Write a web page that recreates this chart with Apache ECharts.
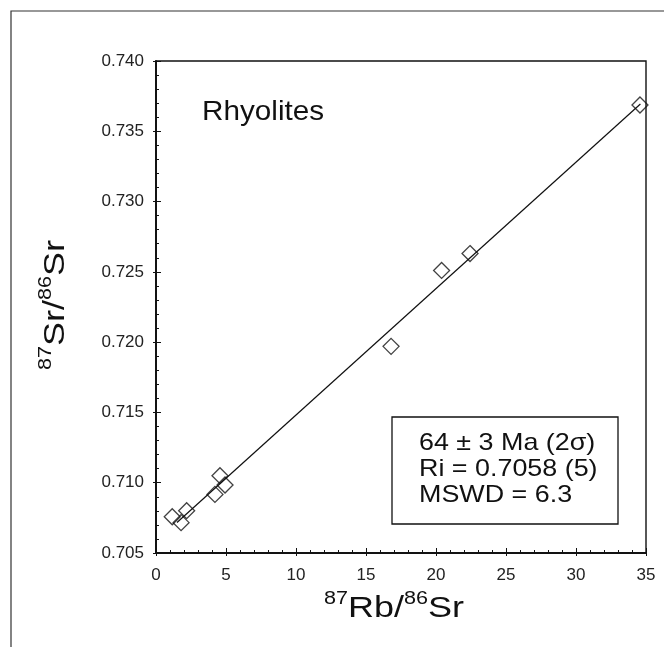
<!DOCTYPE html>
<html><head><meta charset="utf-8">
<script src="https://cdn.jsdelivr.net/npm/echarts@6/dist/echarts.min.js"></script>
<style>html,body{margin:0;padding:0;background:#fff}#c{width:664px;height:647px}</style>
</head><body><div id="c"></div>
<script>
// Data
const rbSr = [1.16, 1.79, 2.19, 4.21, 4.57, 4.93, 16.79, 20.4, 22.43, 34.57];
const srSr = [0.70758, 0.70716, 0.70801, 0.70917, 0.71050, 0.70984, 0.7197, 0.7251, 0.7263, 0.73687];
// Isochron line end points
const lineX = [1.5, 34.6];
const lineY = [0.70717, 0.73694];
const xTicks = [0, 5, 10, 15, 20, 25, 30, 35];
const yTicks = [0.705, 0.710, 0.715, 0.720, 0.725, 0.730, 0.735, 0.740];
const title = 'Rhyolites';
const infoLines = ['64 ± 3 Ma (2σ)', 'Ri = 0.7058 (5)', 'MSWD = 6.3'];
const xTitle = ['87', 'Rb/', '86', 'Sr'];
const yTitle = ['87', 'Sr/', '86', 'Sr'];

const FONT = '"Liberation Sans", Arial, sans-serif';
const chart = echarts.init(document.getElementById('c'));
const pts = rbSr.map((x, i) => [x, srSr[i]]);
const line = lineX.map((x, i) => [x, lineY[i]]);
const xmin = xTicks[0], xmax = xTicks[xTicks.length - 1];
const ymin = yTicks[0], ymax = yTicks[yTicks.length - 1];
const richTitle = p => `{sup|${p[0]}}{big|${p[1]}}{sup|${p[2]}}{big|${p[3]}}`;
const rich = {
  big: {fontFamily: FONT, fontSize: 30, fill: '#111', verticalAlign: 'bottom', lineHeight: 34},
  sup: {fontFamily: FONT, fontSize: 18, fill: '#111', verticalAlign: 'top', lineHeight: 34}
};

const baseAxis = {
  axisLine: {show: true, lineStyle: {color: '#111', width: 1.6}},
  splitLine: {show: false},
};
chart.setOption({
  animation: false,
  grid: {left: 156, top: 61, right: 18, bottom: 94, show: true, borderColor: '#111', borderWidth: 1.4, backgroundColor: 'transparent'},
  xAxis: [
    Object.assign({}, baseAxis, {
      type: 'value', min: xmin, max: xmax, interval: 5, position: 'bottom',
      axisTick: {show: true, inside: true, length: 5, lineStyle: {color: '#111'}},
      minorTick: {show: true, splitNumber: 5, length: 3, lineStyle: {color: '#111'}},
      axisLabel: {fontFamily: FONT, fontSize: 17, color: '#222', margin: 14}
    }),
    Object.assign({}, baseAxis, {
      type: 'value', min: xmin, max: xmax, interval: 5, position: 'bottom',
      axisTick: {show: true, inside: false, length: 3, lineStyle: {color: '#111'}},
      axisLabel: {show: false}
    })
  ],
  yAxis: [
    Object.assign({}, baseAxis, {
      type: 'value', min: ymin, max: ymax, interval: 0.005, position: 'left',
      axisTick: {show: true, inside: true, length: 5, lineStyle: {color: '#111'}},
      minorTick: {show: true, splitNumber: 5, length: 3, lineStyle: {color: '#111'}},
      axisLabel: {fontFamily: FONT, fontSize: 17, color: '#222', margin: 12, formatter: v => v.toFixed(3)}
    }),
    Object.assign({}, baseAxis, {
      type: 'value', min: ymin, max: ymax, interval: 0.005, position: 'left',
      axisTick: {show: true, inside: false, length: 3, lineStyle: {color: '#111'}},
      axisLabel: {show: false}
    })
  ],
  series: [
    {type: 'line', data: line, symbol: 'none', lineStyle: {color: '#111', width: 1.2}, silent: true},
    {type: 'scatter', data: pts, symbol: 'diamond', symbolSize: 16,
     itemStyle: {color: 'rgba(0,0,0,0)', borderColor: '#111', borderWidth: 1.3}}
  ],
  graphic: [
    {type: 'rect', x: 11, y: 11, shape: {width: 700, height: 700}, style: {fill: 'none', stroke: '#333', lineWidth: 1.2}, silent: true},
    {type: 'text', x: 202, y: 112, scaleX: 1.06, style: {text: title, font: '28px ' + FONT, fill: '#111', align: 'left', verticalAlign: 'middle'}},
    {type: 'rect', x: 392, y: 417, shape: {width: 226, height: 107}, style: {fill: '#fff', stroke: '#111', lineWidth: 1.3}},
    {type: 'text', x: 419, y: 443.5, scaleX: 1.12, style: {text: infoLines[0], font: '24px ' + FONT, fill: '#111', align: 'left', verticalAlign: 'middle'}},
    {type: 'text', x: 419, y: 469.5, scaleX: 1.12, style: {text: infoLines[1], font: '24px ' + FONT, fill: '#111', align: 'left', verticalAlign: 'middle'}},
    {type: 'text', x: 419, y: 495, scaleX: 1.12, style: {text: infoLines[2], font: '24px ' + FONT, fill: '#111', align: 'left', verticalAlign: 'middle'}},
    {type: 'text', x: 394, y: 607, scaleX: 1.2, style: {text: richTitle(xTitle), rich: rich, align: 'center', verticalAlign: 'middle'}},
    {type: 'text', x: 54, y: 305, rotation: Math.PI / 2, scaleX: 1.2, style: {text: richTitle(yTitle), rich: rich, align: 'center', verticalAlign: 'middle'}}
  ]
});
</script></body></html>
